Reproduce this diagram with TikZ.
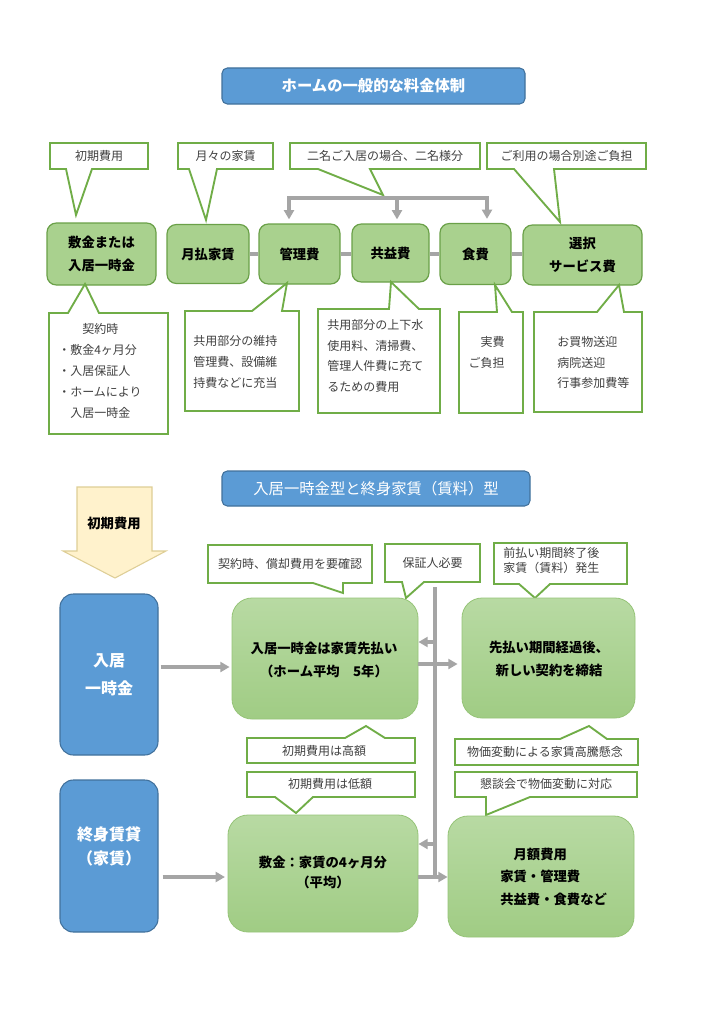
\documentclass[tikz,border=0pt]{standalone}
\usepackage{fontspec}
\setmainfont{Noto Sans CJK JP}
\usetikzlibrary{arrows.meta}
\definecolor{blueF}{RGB}{91,155,213}
\definecolor{blueD}{RGB}{65,113,156}
\definecolor{greenF}{RGB}{169,209,142}
\definecolor{greenD}{RGB}{106,160,72}
\definecolor{greenC}{RGB}{112,173,71}
\definecolor{greenT}{RGB}{184,218,163}
\definecolor{greenB}{RGB}{160,204,132}
\definecolor{greenL}{RGB}{150,196,120}
\definecolor{grayA}{RGB}{165,165,165}
\definecolor{txt}{RGB}{64,64,64}
\definecolor{yelF}{RGB}{255,242,204}
\definecolor{yelD}{RGB}{222,206,150}
\newcommand\cwdown[8]{\draw[callout] (#1,#2) -- (#3,#2) -- (#3,#4) -- (#6,#4) -- (#7,#8) -- (#5,#4) -- (#1,#4) -- cycle;}
\newcommand\cwup[8]{\draw[callout] (#1,#4) -- (#1,#2) -- (#5,#2) -- (#7,#8) -- (#6,#2) -- (#3,#2) -- (#3,#4) -- cycle;}
\begin{document}
\begin{tikzpicture}[x=0.75pt,y=-0.75pt,
  title/.style={draw=blueD, fill=blueF, line width=0.8pt, rounded corners=4pt, text=white, inner sep=0pt},
  gbox/.style={draw=greenD, fill=greenF, line width=0.9pt, rounded corners=7pt, font=\fontsize{10}{17}\selectfont\bfseries, align=center, inner sep=0pt},
  lbox/.style={draw=greenL, top color=greenT, bottom color=greenB, line width=0.6pt, rounded corners=15pt, inner sep=0pt},
  bbox/.style={draw=blueD, fill=blueF, line width=0.8pt, rounded corners=10pt, inner sep=0pt, text=white, align=center},
  btext/.style={font=\fontsize{10}{17.25}\selectfont\bfseries, align=center, inner sep=0pt},
  callout/.style={draw=greenC, fill=white, line width=1.4pt},
  ctext/.style={text=txt, font=\fontsize{9}{15.6}\selectfont, inner sep=0pt},
  bar/.style={draw=grayA, line width=3pt},
  arr/.style={draw=grayA, line width=2.3pt, -{Triangle[width=7.5pt,length=7pt]}},
  arrs/.style={draw=grayA, line width=2.3pt, {Triangle[width=7.5pt,length=7pt]}-{Triangle[width=7.5pt,length=7pt]}}
]
\useasboundingbox (0,0) rectangle (724,1024);
\fill[white] (0,0) rectangle (724,1024);

% ===== Title 1
\node[title, minimum width=303*0.75pt, minimum height=36*0.75pt, font=\fontsize{11.5}{14}\selectfont\bfseries] (T1) at (373.5,86) {ホームの一般的な料金体制};

% ===== top callouts
\cwdown{50}{143}{148}{169}{66}{92}{76}{215}
\node[ctext] (c1) at (99,156) {初期費用};
\cwdown{178}{143}{273}{169}{189}{217}{206}{220}
\node[ctext] (c2) at (225.5,156) {月々の家賃};
\cwdown{290}{143}{480}{169}{318}{370}{383}{195}
\node[ctext] (c3) at (385,156) {二名ご入居の場合、二名様分};
\cwdown{487}{143}{646}{169}{514}{554}{560}{222}
\node[ctext] (c4) at (566.5,156) {ご利用の場合別途ご負担};

% ===== top boxes
\node[gbox, minimum width=109*0.75pt, minimum height=62*0.75pt] (n1) at (101.5,254) {敷金または\\入居一時金};
\node[gbox, minimum width=82*0.75pt, minimum height=59*0.75pt] (n2) at (208,254) {月払家賃};
\node[gbox, minimum width=81*0.75pt, minimum height=60*0.75pt] (n3) at (299.5,254) {管理費};
\node[gbox, minimum width=77*0.75pt, minimum height=58*0.75pt] (n4) at (390.5,253) {共益費};
\node[gbox, minimum width=71*0.75pt, minimum height=61*0.75pt] (n5) at (475.5,254) {食費};
\node[gbox, minimum width=119*0.75pt, minimum height=60*0.75pt] (n6) at (582.5,255) {選択\\サービス費};

\draw[bar] (n2.east) -- (n3.west |- n2.east);
\draw[bar] (n3.east) -- (n4.west |- n3.east);
\draw[bar] (n4.east |- n5.west) -- (n5.west);
\draw[bar] (n5.east) -- (n6.west |- n5.east);

% bracket
\coordinate (bL) at (289,198);
\coordinate (bM) at (397,198);
\coordinate (bR) at (487,198);
\draw[arrs, line join=miter, shorten <=3pt, shorten >=3pt] (bL |- n3.north) -- (bL) -- (bR) -- (bR |- n5.north);
\draw[arr, shorten >=3pt] (bM) -- (bM |- n4.north);

% ===== bottom callouts of top section
\cwup{49}{313}{168}{434}{68}{99}{85}{284}
\node[ctext, anchor=west, align=left] (c5) at (58,371) {　　契約時\\・敷金4ヶ月分\\・入居保証人\\・ホームにより\\　入居一時金};
\cwup{185}{311}{299}{411}{252}{282}{287}{283}
\node[ctext, anchor=west, align=left] (c6) at (193,362) {共用部分の維持\\管理費、設備維\\持費などに充当};
\cwup{318}{309}{440}{413}{389}{419}{391}{282}
\node[ctext, anchor=west, align=left] (c7) at (327,356) {共用部分の上下水\\使用料、清掃費、\\管理人件費に充て\\るための費用};
\cwup{459}{312}{523}{413}{497}{512}{495}{285}
\node[ctext, anchor=east, align=right] (c8) at (505,352.5) {実費\\ご負担};
\cwup{534}{312}{642}{412}{597}{624}{619}{285}
\node[ctext, anchor=west, align=left] (c9) at (557,362.5) {お買物送迎\\病院送迎\\行事参加費等};

% ===== Title 2
\node[title, minimum width=308*0.75pt, minimum height=35*0.75pt, font=\fontsize{11.5}{14}\selectfont] (T2) at (376,488.5) {入居一時金型と終身家賃（賃料）型};

% ===== yellow arrow
\draw[draw=yelD, fill=yelF, line width=0.8pt] (77,487) -- (152,487) -- (152,551) -- (166,551) -- (115,578) -- (63,551) -- (77,551) -- cycle;
\node[font=\fontsize{10}{12}\selectfont\bfseries, inner sep=0pt] (Yt) at (114,523) {初期費用};

% ===== lower callouts
\cwdown{208}{545}{372}{583}{313}{343}{343}{593}
\node[ctext] (d1) at (290,564) {契約時、償却費用を要確認};
\cwdown{385}{544}{480}{582}{402}{424}{406}{598}
\node[ctext] (d2) at (432.5,563) {保証人必要};
\cwdown{494}{543}{627}{584}{519}{550}{535}{598}
\node[ctext, anchor=west, align=left, font=\fontsize{9}{11.4}\selectfont] (d3) at (503,560.5) {前払い期間終了後\\家賃（賃料）発生};
\cwup{247}{738}{415}{763}{345}{385}{366}{726}
\node[ctext] (d4) at (324,750.5) {初期費用は高額};
\cwdown{247}{772}{415}{797}{275}{313}{296}{813}
\node[ctext] (d5) at (330,784) {初期費用は低額};
\cwup{455}{739}{638}{765}{560}{607}{589}{726}
\node[ctext] (d6) at (545,752) {物価変動による家賃高騰懸念};
\cwdown{455}{772}{637}{797}{486}{530}{486}{815}
\node[ctext] (d7) at (546,784) {懇談会で物価変動に対応};

% ===== blue boxes
\node[bbox, minimum width=98*0.75pt, minimum height=161*0.75pt, font=\fontsize{12}{21}\selectfont\bfseries] (B1) at (109,674.5) {入居\\一時金};
\node[bbox, minimum width=98*0.75pt, minimum height=152*0.75pt] (B2) at (109,856) {};
\node[text=white, align=center, inner sep=0pt, font=\fontsize{12}{17.5}\selectfont\bfseries] (B2t) at (109,846.5) {終身賃貸\\（家賃）};

% ===== green boxes lower
\node[lbox, minimum width=186*0.75pt, minimum height=121*0.75pt] (G1) at (325,658.5) {};
\node[btext] (G1t) at (324,659.5) {入居一時金は家賃先払い\\（ホーム平均　5年）};
\node[lbox, minimum width=173*0.75pt, minimum height=120*0.75pt] (G2) at (548.5,658) {};
\node[btext] (G2t) at (549,658.5) {先払い期間経過後、\\新しい契約を締結};
\node[lbox, minimum width=190*0.75pt, minimum height=117*0.75pt] (G3) at (323,873.5) {};
\node[btext, font=\fontsize{10}{15}\selectfont\bfseries] (G3t) at (323,872) {敷金：家賃の4ヶ月分\\（平均）};
\node[lbox, minimum width=186*0.75pt, minimum height=121*0.75pt] (G4) at (541,876.5) {};
\node[btext, anchor=west, align=left, font=\fontsize{10}{16.9}\selectfont\bfseries] (G4t) at (500,876.5) {　月額費用\\家賃・管理費\\共益費・食費など};

% ===== lower connectors
\coordinate (busT) at (435,587);
\coordinate (busB) at (435,877);
\draw[draw=grayA, line width=2.3pt] (busT) -- (busB);
\coordinate (yA) at (0,642);
\coordinate (yB) at (0,664);
\coordinate (yC) at (0,844);
\coordinate (yD) at (0,877);
\coordinate (yE) at (0,667);
\draw[arr] (busT |- yA) -- (G1.east |- yA);
\draw[arr, shorten >=3pt] (G1.east |- yB) -- (G2.west |- yB);
\draw[arr] (busT |- yC) -- (G3.east |- yC);
\draw[arr] (G3.east |- yD) -- (G4.west |- yD);
\draw[arr, shorten <=1.5pt, shorten >=1.5pt] (B1.east |- yE) -- (G1.west |- yE);
\draw[arr, shorten <=3pt, shorten >=2pt] (B2.east |- yD) -- (G3.west |- yD);
\end{tikzpicture}
\end{document}
